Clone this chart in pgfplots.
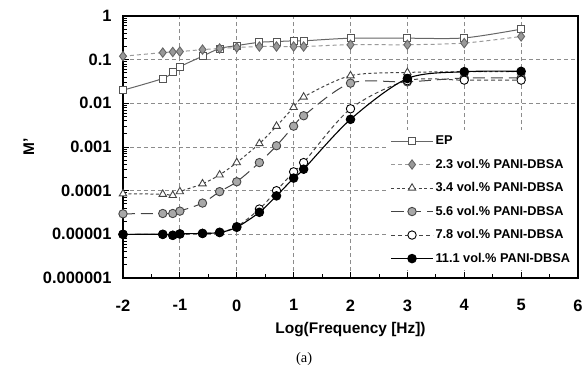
\documentclass[border=0pt]{standalone}
\usepackage{pgfplots}
\pgfplotsset{compat=1.18}
\usepackage{fontspec}
\setmainfont{Liberation Sans}
\newfontfamily\seriffont{Liberation Serif}
\definecolor{epline}{HTML}{666666}
\definecolor{epedge}{HTML}{555555}
\definecolor{dgray}{HTML}{999999}
\definecolor{dedge}{HTML}{666666}
\definecolor{tline}{HTML}{444444}
\definecolor{gfill}{HTML}{A8A8A8}
\definecolor{gridc}{HTML}{8C8C8C}

\pgfplotstableread{
x      ep     d23     t34      g56      w78      b111
-2     0.020  0.120   8.5e-5   2.95e-5  1.00e-5  1.00e-5
-1.301 0.037  0.145   8.3e-5   3.0e-5   1.00e-5  1.00e-5
-1.125 0.052  0.150   7.8e-5   3.0e-5   0.95e-5  0.95e-5
-1     0.069  0.153   9.5e-5   3.4e-5   1.02e-5  1.02e-5
-0.602 0.120  0.170   1.44e-4  5.2e-5   1.05e-5  1.05e-5
-0.301 0.180  0.180   2.3e-4   9.5e-5   1.12e-5  1.10e-5
0      0.210  0.190   4.4e-4   1.6e-4   1.50e-5  1.45e-5
0.398  0.250  0.200   1.2e-3   4.4e-4   3.8e-5   3.2e-5
0.699  0.260  0.200   3.0e-3   1.07e-3  1.0e-4   7.6e-5
1      0.270  0.200   8.1e-3   3.0e-3   2.7e-4   1.94e-4
1.176  0.270  0.200   0.014    5.2e-3   4.4e-4   3.1e-4
2      0.310  0.220   0.043    0.029    7.5e-3   4.3e-3
3      0.310  0.220   0.051    0.031    0.033    0.037
4      0.315  0.240   0.053    0.038    0.034    0.053
5      0.500  0.340   0.053    0.038    0.034    0.054
}\datatable

\begin{document}
\begin{tikzpicture}
\useasboundingbox (-123bp,-87bp) rectangle (459bp,278bp);
\begin{semilogyaxis}[
  scale only axis,
  width=455bp, height=262bp,
  xmin=-2, xmax=6,
  ymin=1e-6, ymax=1,
  xtick={-2,-1,0,1,2,3,4,5,6},
  xticklabels={-2,-1,0,1,2,3,4,5,6},
  minor xtick={-1.5,-0.5,0.5,1.5,2.5,3.5,4.5,5.5},
  ytick={1e-6,1e-5,1e-4,1e-3,1e-2,1e-1,1},
  yticklabels={0.000001,0.00001,0.0001,0.001,0.01,0.1,1},
  minor ytick={2e-6,3e-6,4e-6,5e-6,6e-6,7e-6,8e-6,9e-6,
    2e-5,3e-5,4e-5,5e-5,6e-5,7e-5,8e-5,9e-5,
    2e-4,3e-4,4e-4,5e-4,6e-4,7e-4,8e-4,9e-4,
    2e-3,3e-3,4e-3,5e-3,6e-3,7e-3,8e-3,9e-3,
    2e-2,3e-2,4e-2,5e-2,6e-2,7e-2,8e-2,9e-2,
    2e-1,3e-1,4e-1,5e-1,6e-1,7e-1,8e-1,9e-1},
  xtick pos=bottom, ytick pos=left,
  tick align=inside,
  major tick length=6bp, minor tick length=4bp,
  tick style={black, line width=1bp},
  minor tick style={black, line width=0.8bp},
  axis line style={line width=1.8bp},
  xmajorgrids, ymajorgrids,
  major grid style={gridc, line width=1bp, dash pattern=on 4bp off 3bp},
  ticklabel style={font=\bfseries\fontsize{16.5}{18}\selectfont},
  yticklabel style={xshift=-8bp},
  xticklabel style={yshift=-18bp},
  xlabel={Log(Frequency [Hz])},
  ylabel={M'},
  label style={font=\bfseries\fontsize{15.5}{17}\selectfont},
  xlabel style={at={(axis description cs:0.5,-0.195)}, anchor=center},
  ylabel style={at={(axis description cs:-0.207,0.5)}, anchor=center, rotate=0},
  clip=false,
  legend cell align=left,
  legend style={draw=none, fill=white, at={(rel axis cs:0.996,0.03)}, anchor=south east,
    font=\bfseries\fontsize{12.8}{14}\selectfont, row sep=8.8bp, inner xsep=4bp, inner ysep=4bp},
  legend image code/.code={\draw[mark repeat=2,mark phase=2,#1] plot coordinates {(0bp,0bp) (21bp,0bp) (42bp,0bp)};},
]
\addplot[epline, line width=1bp, smooth, tension=0.5, mark=square*, mark size=3.5bp,
  mark options={solid, fill=white, draw=epedge, line width=0.9bp}] table[x=x,y=ep]{\datatable};
\addlegendentry{EP}
\addplot[dgray, line width=1bp, dash pattern=on 4bp off 3bp, smooth, tension=0.5, mark=diamond*, mark size=4.7bp,
  mark options={solid, fill=dgray, draw=dedge, line width=0.9bp}] table[x=x,y=d23]{\datatable};
\addlegendentry{2.3 vol.\% PANI-DBSA}
\addplot[tline, line width=1bp, dash pattern=on 3bp off 2.5bp, smooth, tension=0.5, mark=triangle*, mark size=4.3bp,
  mark options={solid, fill=white, draw=tline, line width=0.9bp}] table[x=x,y=t34]{\datatable};
\addlegendentry{3.4 vol.\% PANI-DBSA}
\addplot[tline, line width=1bp, dash pattern=on 12bp off 6bp, smooth, tension=0.5, mark=*, mark size=4.2bp,
  mark options={solid, fill=gfill, draw=tline, line width=0.9bp}] table[x=x,y=g56]{\datatable};
\addlegendentry{5.6 vol.\% PANI-DBSA}
\addplot[tline, line width=1bp, dash pattern=on 4bp off 3bp, smooth, tension=0.5, mark=*, mark size=4.2bp,
  mark options={solid, fill=white, draw=black, line width=0.9bp}] table[x=x,y=w78]{\datatable};
\addlegendentry{7.8 vol.\% PANI-DBSA}
\addplot[black, line width=1.1bp, smooth, tension=0.5, mark=*, mark size=4.2bp,
  mark options={solid, fill=black, draw=black}] table[x=x,y=b111]{\datatable};
\addlegendentry{11.1 vol.\% PANI-DBSA}
\node[font=\seriffont\fontsize{14.5}{16}\selectfont] at (axis description cs:0.398,-0.31) {(a)};
\end{semilogyaxis}
\end{tikzpicture}
\end{document}
